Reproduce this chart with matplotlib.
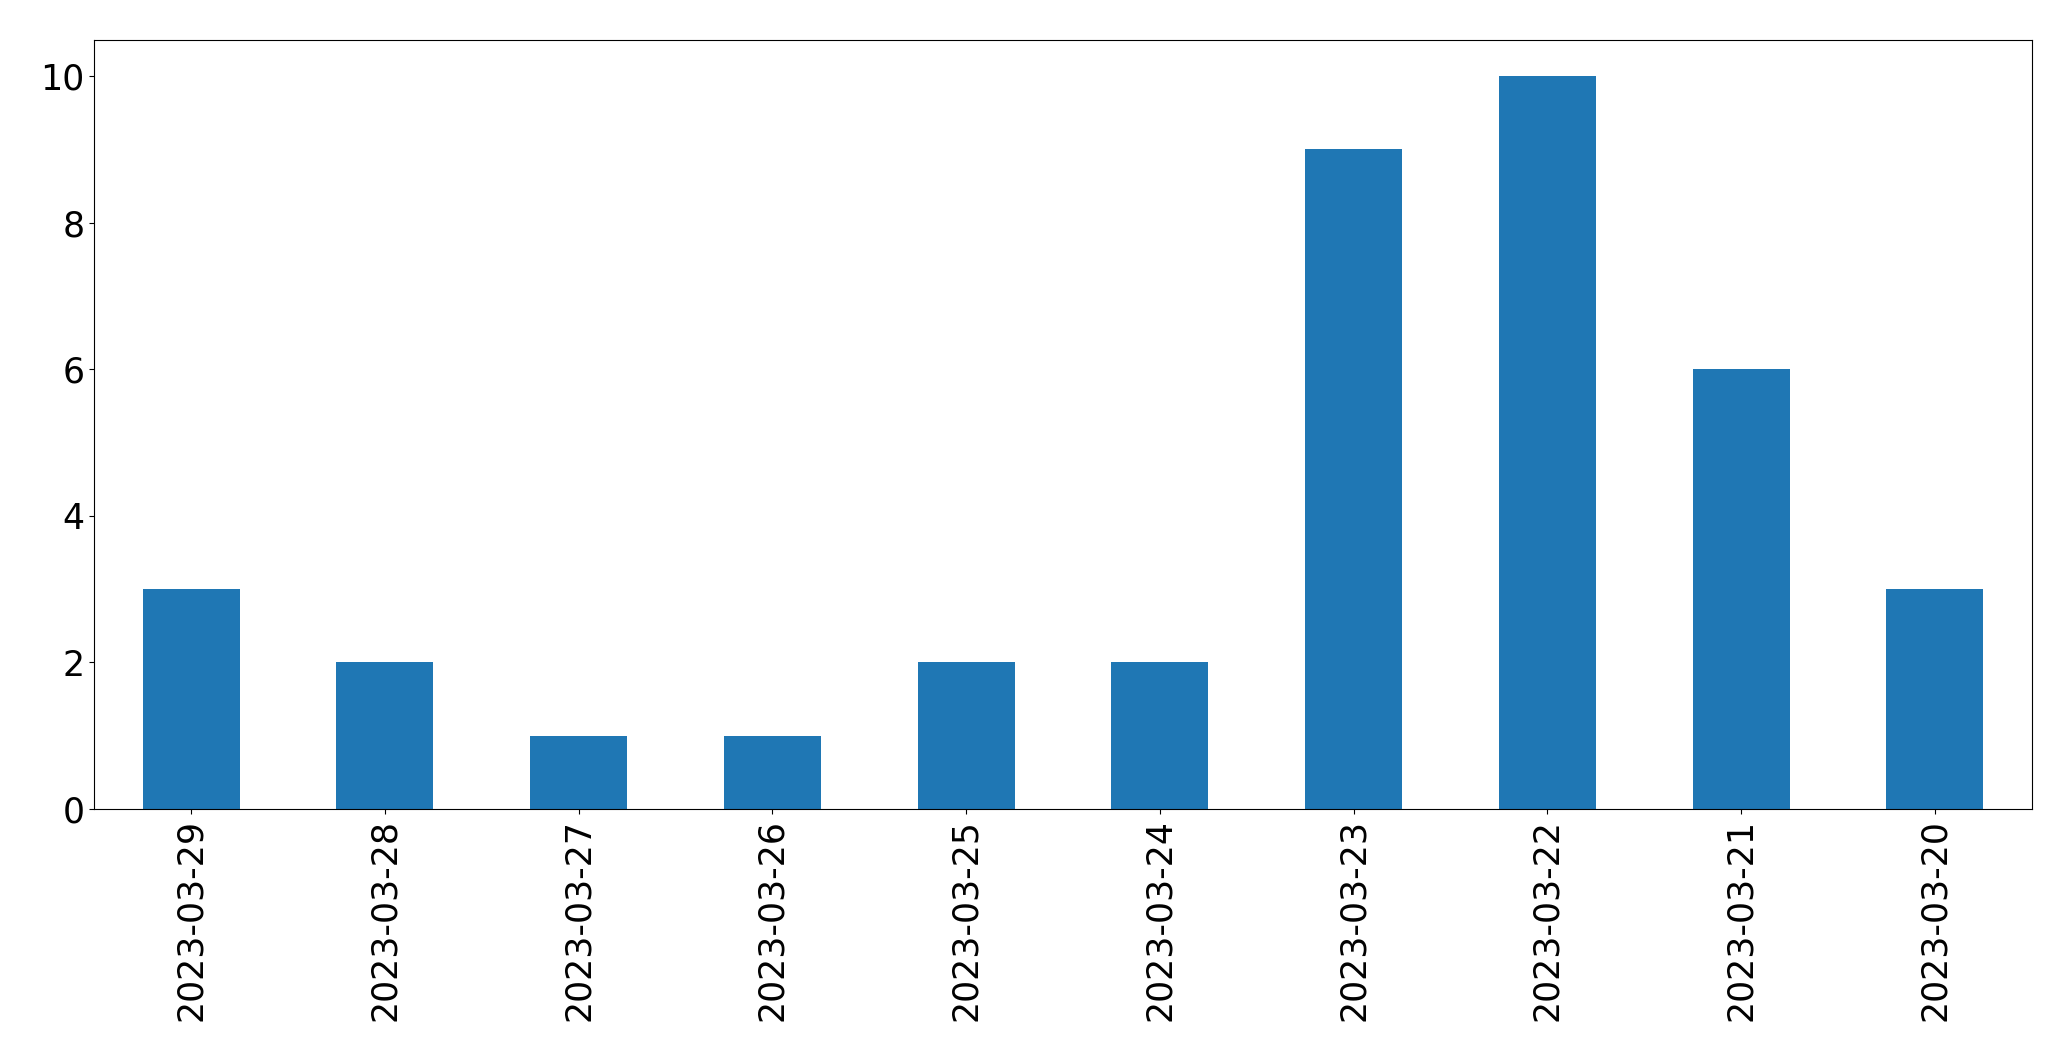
import matplotlib
matplotlib.use("Agg")
import matplotlib.pyplot as plt
import pandas as pd

dates = ["2023-03-29", "2023-03-28", "2023-03-27", "2023-03-26", "2023-03-25",
         "2023-03-24", "2023-03-23", "2023-03-22", "2023-03-21", "2023-03-20"]
counts = [3, 2, 1, 1, 2, 2, 9, 10, 6, 3]

plt.rcdefaults()
s = pd.Series(counts, index=dates)

fig, ax = plt.subplots(figsize=(20.71, 10.61), dpi=100)
s.plot(kind="bar", ax=ax, color="#1f77b4")
ax.tick_params(axis="both", labelsize=25)
ax.set_xlabel("")

fig.subplots_adjust(left=94.3 / 2071, right=2031.7 / 2071,
                    top=1 - 39.5 / 1061, bottom=1 - 809 / 1061)
fig.savefig("out.png", dpi=100)
